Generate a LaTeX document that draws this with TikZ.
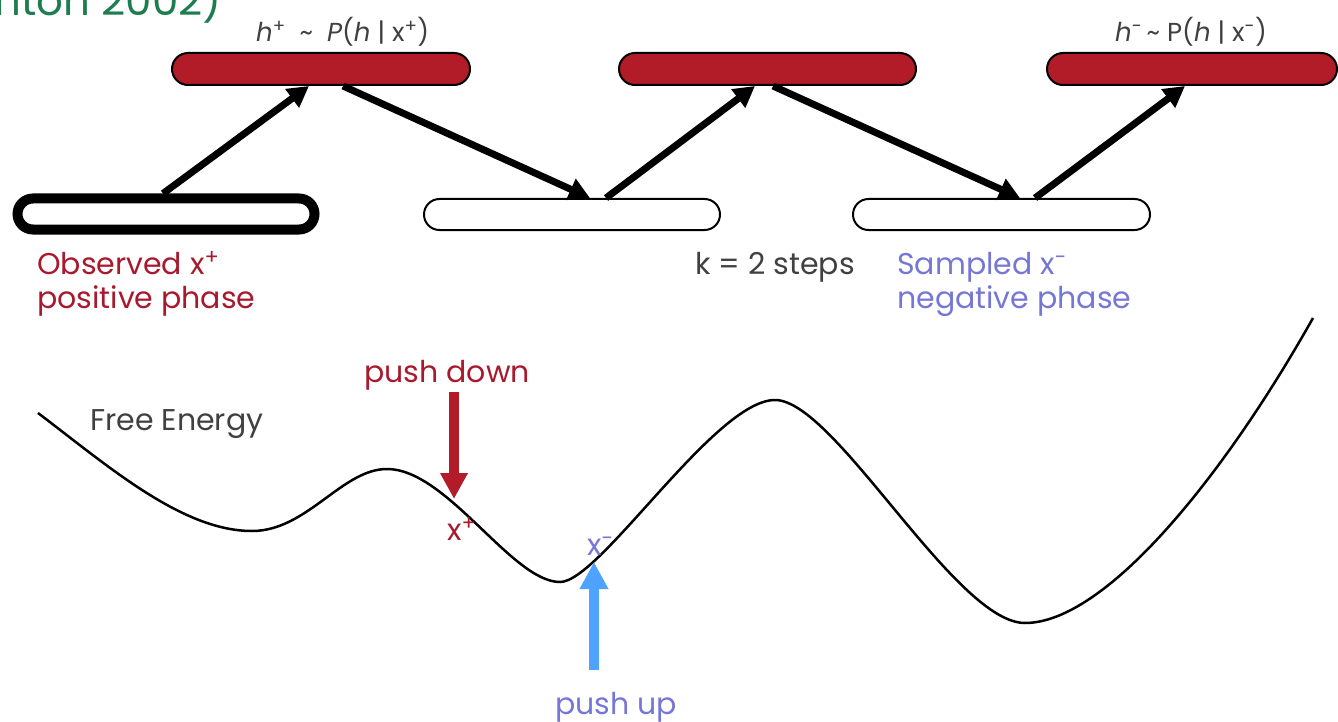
\documentclass[tikz,border=0pt]{standalone}
\usepackage{fontspec}
\setmainfont{Poppins}
\usetikzlibrary{arrows.meta,calc}
\definecolor{barred}{RGB}{178,27,40}
\definecolor{txtred}{RGB}{168,25,45}
\definecolor{txtpurple}{RGB}{118,118,214}
\definecolor{pushblue}{RGB}{77,163,255}
\definecolor{txtgray}{RGB}{64,64,64}
\definecolor{citegreen}{RGB}{30,125,80}
\begin{document}
\begin{tikzpicture}[x=1pt,y=-1pt,
  redbar/.style={draw=black, line width=2pt, fill=barred, rounded corners=16pt,
    minimum height=32pt, inner sep=0pt},
  whitebar/.style={draw=black, line width=2pt, fill=white, rounded corners=15.5pt,
    minimum height=31pt, inner sep=0pt},
  obsbar/.style={draw=black, line width=10pt, fill=white, rounded corners=15.5pt,
    minimum height=31pt, inner sep=0pt},
  flow/.style={draw=black, line width=7pt, -{Triangle[length=21pt,width=22pt]}},
  lbl/.style={font=\fontsize{30}{36}\selectfont, inner sep=0pt, anchor=base west},
  eqlbl/.style={font=\fontsize{26}{30}\selectfont, inner sep=0pt, anchor=base west, text=txtgray},
  curve/.style={draw=black, line width=2.5pt}
]
\useasboundingbox (0,0) rectangle (1338,722);
\clip (0,0) rectangle (1338,722);

% citation fragment (cut at the top-left edge)
\node[font=\fontsize{42}{48}\selectfont, text=citegreen, inner sep=0pt, anchor=base east] (cite) at (222,16) {(Hinton 2002)};

% hidden layer bars
\node[redbar, minimum width=298pt] (h1) at (321,69) {};
\node[redbar, minimum width=297pt] (h2) at (767.5,69) {};
\node[redbar, minimum width=290pt] (h3) at (1192,69) {};

% visible layer bars
\node[obsbar, minimum width=297pt] (v0) at (166,214) {};
\node[whitebar, minimum width=296pt] (v1) at (572,214.5) {};
\node[whitebar, minimum width=297pt] (v2) at (1001.5,214.5) {};

% Gibbs chain arrows
\draw[flow] ([xshift=-3pt]v0.north) -- ([xshift=-12pt]h1.south);
\draw[flow] ([xshift=22pt]h1.south) -- ([xshift=18pt]v1.north);
\draw[flow] ([xshift=34pt]v1.north) -- ([xshift=-12.5pt]h2.south);
\draw[flow] ([xshift=5.5pt]h2.south) -- ([xshift=18.5pt]v2.north);
\draw[flow] ([xshift=33.5pt]v2.north) -- ([xshift=-7pt]h3.south);

% labels top
\node[eqlbl] (eqp) at (256,42) {\textit{h}\textsuperscript{+}\ \ \char"007E\ \ \textit{P}(\textit{h}\ |\ x\textsuperscript{+})};
\node[eqlbl] (eqm) at (1115,42) {\textit{h}\textsuperscript{-}\,\char"007E\ P(\textit{h}\ |\ x\textsuperscript{-})};

\node[lbl, text=txtred] (obs1) at (37,274) {Observed x\textsuperscript{+}};
\node[lbl, text=txtred] (obs2) at (37,308) {positive phase};
\node[lbl, text=txtgray] (ksteps) at (695,274) {k = 2 steps};
\node[lbl, text=txtpurple] (smp1) at (897,274) {Sampled x\textsuperscript{-}};
\node[lbl, text=txtpurple] (smp2) at (897,308) {negative phase};

% free energy curve
\draw[curve] (38,413) .. controls (108,466) and (182,531) .. (252,531)
  .. controls (307,531) and (342,469) .. (387,469)
  .. controls (447,469) and (512,582) .. (560,582)
  .. controls (600,582) and (715,400) .. (775,400)
  .. controls (835,400) and (955,623) .. (1025,623)
  .. controls (1105,623) and (1223,478) .. (1313,318);

\node[lbl, text=txtgray] (fe) at (90,430) {Free Energy};
\node[lbl, text=txtred, anchor=base] (pdown) at (447,382) {push down};
\node[lbl, text=txtred] (xp) at (447,540) {x\textsuperscript{+}};
\node[lbl, text=txtpurple] (xm) at (587,555) {x\textsuperscript{-}};
\node[lbl, text=txtpurple] (pup) at (555,714) {push up};

\coordinate (pdtop) at (454,392);
\coordinate (pdtip) at (454,499);
\draw[draw=barred, fill=barred, line width=9.5pt, -{Triangle[length=26pt,width=26pt]}] (pdtop) -- (pdtip);
\coordinate (pubot) at (594,670);
\coordinate (putip) at (594,562);
\draw[draw=pushblue, fill=pushblue, line width=10pt, -{Triangle[length=27pt,width=27pt]}] (pubot) -- (putip);
\end{tikzpicture}
\end{document}
